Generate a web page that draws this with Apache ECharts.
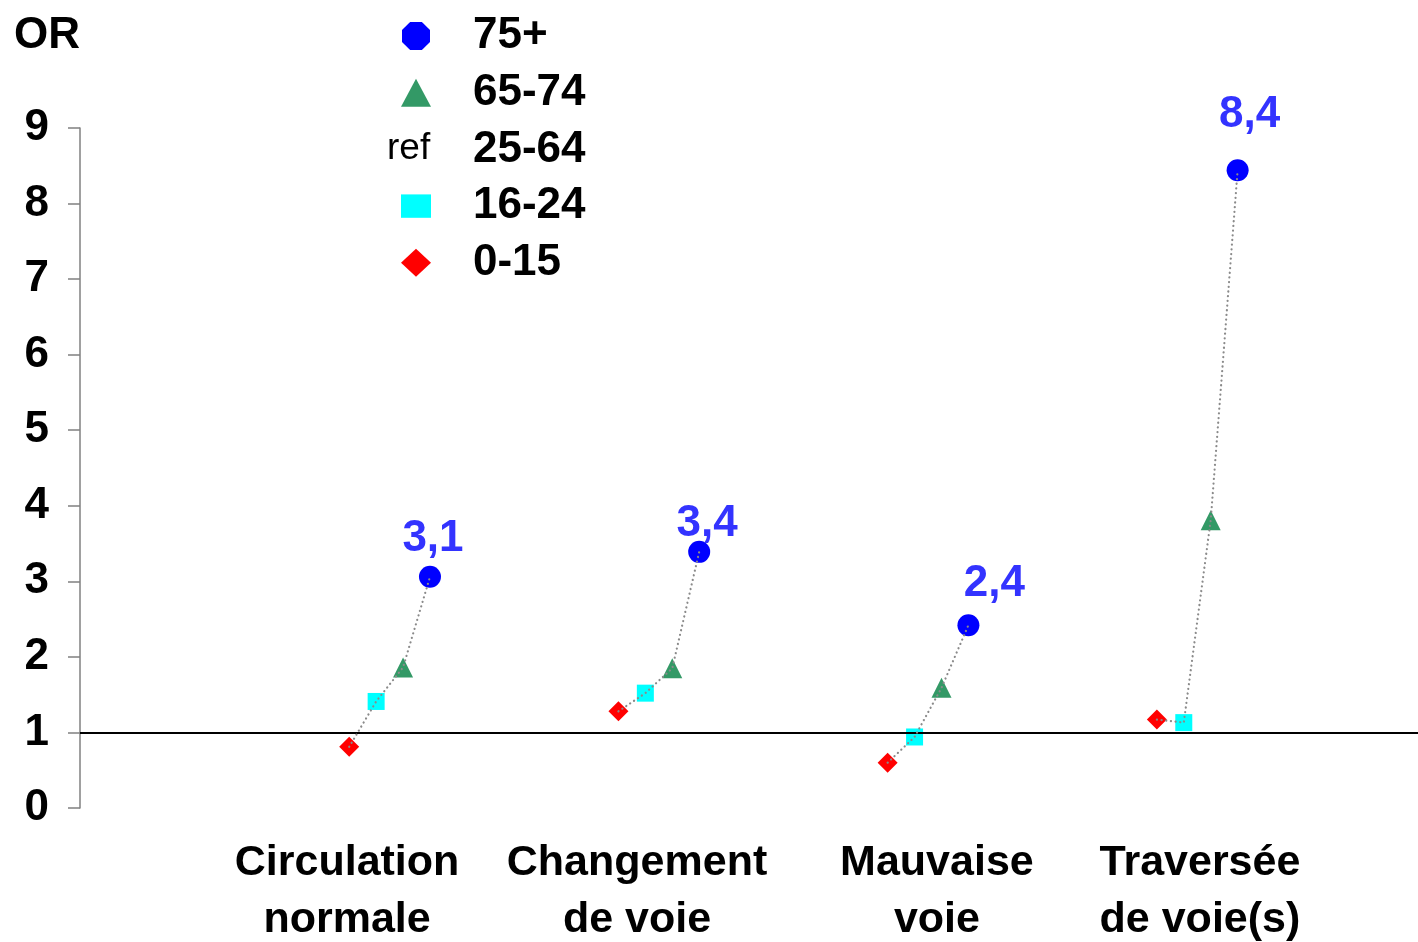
<!DOCTYPE html>
<html>
<head>
<meta charset="utf-8">
<script src="https://cdn.jsdelivr.net/npm/echarts@6/dist/echarts.min.js"></script>
<style>
  html, body { margin: 0; padding: 0; background: #fff; }
  #chart { width: 1418px; height: 942px; }
</style>
</head>
<body>
<div id="chart"></div>
<script>
// ---- data ----
const categories = ['Circulation\nnormale', 'Changement\nde voie', 'Mauvaise\nvoie', 'Traversée\nde voie(s)'];
const ageGroups = ['75+', '65-74', '25-64', '16-24', '0-15'];
const or75plus = [3.06, 3.39, 2.42, 8.44];
const or65to74 = [1.86, 1.85, 1.59, 3.81];
const or16to24 = [1.41, 1.52, 0.94, 1.13];
const or0to15 = [0.81, 1.28, 0.60, 1.17];
const refValue = 1; // 25-64 reference
const refLabel = 'ref';
const yTitle = 'OR';

// ---- layout (not data) ----
const groupX = [1, 2, 3, 4];
const ageOffset = { '0-15': -0.15, '16-24': -0.05, '65-74': 0.05, '75+': 0.15 };
const categoryLabelX = [0.842, 1.919, 3.033, 4.010];
const valueLabelNudge = [[3, -38], [8, -28], [26, -41], [12, -55]];
const FONT = '"Liberation Sans", Arial, sans-serif';

const chart = echarts.init(document.getElementById('chart'), null, { renderer: 'canvas' });

function pts(name, values) {
  return values.map((v, i) => [groupX[i] + ageOffset[name], v]);
}

const linkSeries = groupX.map((gx, i) => ({
  type: 'line',
  name: 'link' + i,
  z: 5,
  silent: true,
  symbol: 'none',
  data: [
    [gx + ageOffset['0-15'], or0to15[i]],
    [gx + ageOffset['16-24'], or16to24[i]],
    [gx + ageOffset['65-74'], or65to74[i]],
    [gx + ageOffset['75+'], or75plus[i]]
  ],
  lineStyle: { color: '#8a8a8a', width: 2.2, type: [0.1, 4.6], cap: 'round', opacity: 1 }
}));

const option = {
  animation: false,
  backgroundColor: '#fff',
  grid: { left: 80, right: 0, top: 128, bottom: 134, containLabel: false, outerBoundsMode: 'none' },
  legend: {
    orient: 'vertical',
    left: 396,
    top: 9,
    itemWidth: 30,
    itemHeight: 28,
    itemGap: 12.7,
    selectedMode: false,
    textStyle: { fontFamily: FONT, fontSize: 44, fontWeight: 'bold', color: '#000', padding: [0, 0, 0, 37] },
    data: [
      { name: '75+', icon: 'path://M29,0L71,0L100,29L100,71L71,100L29,100L0,71L0,29Z', itemStyle: { opacity: 1 } },
      { name: '65-74', icon: 'triangle', itemStyle: { opacity: 1 } },
      { name: '25-64', icon: 'none' },
      { name: '16-24', icon: 'path://M0,0L100,0L100,78L0,78Z', itemStyle: { opacity: 1 } },
      { name: '0-15', icon: 'diamond', itemStyle: { opacity: 1 } }
    ]
  },
  graphic: [{
    type: 'text',
    left: 387,
    top: 130,
    style: { text: refLabel, fontFamily: FONT, fontSize: 37, fontWeight: 'normal', fill: '#000' }
  }],
  xAxis: {
    type: 'value',
    min: -0.15,
    max: 4.82,
    axisLine: { show: false },
    axisTick: { show: false },
    splitLine: { show: false },
    axisLabel: {
      customValues: categoryLabelX,
      formatter: function (v) {
        for (let i = 0; i < categoryLabelX.length; i++) {
          if (Math.abs(categoryLabelX[i] - v) < 1e-6) return categories[i];
        }
        return '';
      },
      fontFamily: FONT,
      fontSize: 43,
      fontWeight: 'bold',
      color: '#000',
      lineHeight: 57,
      margin: 27,
      align: 'center'
    }
  },
  yAxis: {
    type: 'value',
    min: 0,
    max: 9,
    interval: 1,
    name: yTitle,
    nameLocation: 'end',
    nameGap: 92,
    nameTextStyle: { fontFamily: FONT, fontSize: 44, fontWeight: 'bold', color: '#000', align: 'right', verticalAlign: 'middle' },
    axisLine: { show: true, onZero: false, lineStyle: { color: '#808080', width: 1.5 } },
    axisTick: { show: true, length: 12, lineStyle: { color: '#808080', width: 1.5 } },
    splitLine: { show: false },
    axisLabel: { fontFamily: FONT, fontSize: 44, fontWeight: 'bold', color: '#000', margin: 31 }
  },
  series: [
    {
      type: 'scatter', name: '75+', z: 3,
      symbol: 'circle', symbolSize: 22,
      itemStyle: { color: '#0000ff', opacity: 1 },
      data: pts('75+', or75plus).map((p, i) => ({
        value: p,
        label: {
          show: true,
          position: 'inside',
          offset: valueLabelNudge[i],
          formatter: (d) => d.value[1].toFixed(1).replace('.', ','),
          fontFamily: FONT, fontSize: 44, fontWeight: 'bold', color: '#3333ff', opacity: 1
        }
      }))
    },
    {
      type: 'scatter', name: '65-74', z: 3,
      symbol: 'triangle', symbolSize: 20,
      itemStyle: { color: '#339966', opacity: 1 },
      data: pts('65-74', or65to74)
    },
    {
      type: 'line', name: '25-64', z: 6,
      symbol: 'none',
      data: [],
      itemStyle: { color: '#000' },
      markLine: {
        silent: true,
        symbol: 'none',
        label: { show: false },
        lineStyle: { color: '#000', width: 2.2, type: 'solid' },
        data: [{ yAxis: refValue }]
      }
    },
    {
      type: 'scatter', name: '16-24', z: 3,
      symbol: 'rect', symbolSize: 17,
      itemStyle: { color: '#00ffff', opacity: 1 },
      data: pts('16-24', or16to24)
    },
    {
      type: 'scatter', name: '0-15', z: 3,
      symbol: 'diamond', symbolSize: 20,
      itemStyle: { color: '#ff0000', opacity: 1 },
      data: pts('0-15', or0to15)
    }
  ].concat(linkSeries)
};

chart.setOption(option);
</script>
</body>
</html>
